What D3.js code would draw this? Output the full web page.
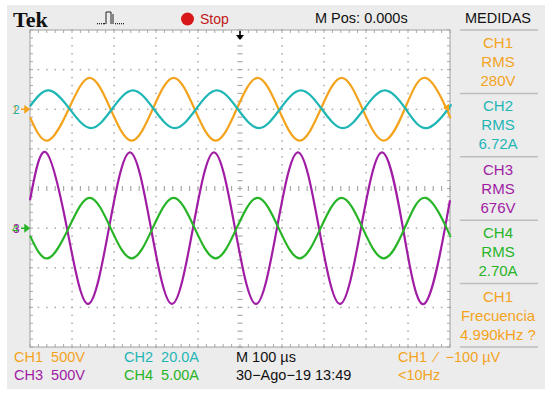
<!DOCTYPE html>
<html><head><meta charset="utf-8">
<script src="https://cdn.jsdelivr.net/npm/d3@7"></script>
<style>body{margin:0;background:#fff}svg{display:block}</style>
</head><body><svg id="c" width="550" height="398"></svg>
<script>
// ---- data (time in microseconds) ----
const timesA = [-500,-458,-408,-358,-308,-258,-208,-158,-108,-58,-8,42,92,142,192,242,292,342,392,442,492,500];
const ch1Volts = [-100,-396,0,396,0,-396,0,396,0,-396,0,396,0,-396,0,396,0,-396,0,396,0,-98];
const ch4Amps  = [-0.95,-3.82,0,3.82,0,-3.82,0,3.82,0,-3.82,0,3.82,0,-3.82,0,3.82,0,-3.82,0,3.82,0,-0.95];
const timesB = [-500,-455,-405,-355,-305,-255,-205,-155,-105,-55,-5,45,95,145,195,245,295,345,395,445,495,500];
const ch2Amps  = [1.5,9.5,0,-9.5,0,9.5,0,-9.5,0,9.5,0,-9.5,0,9.5,0,-9.5,0,9.5,0,-9.5,0,1.5];
const timesC = [-500,-462,-412,-362,-312,-262,-212,-162,-112,-62,-12,38,88,138,188,238,288,338,388,438,488,500];
const ch3Volts = [352,956,0,-956,0,956,0,-956,0,956,0,-956,0,956,0,-956,0,956,0,-956,0,352];

const channelNames = ["CH1","CH2","CH3","CH4"];
const scaleLabels  = ["500V","20.0A","500V","5.00A"];
const perDiv       = [500,20,500,5];
const offsetDiv    = [2,2,-1,-1];
const rmsLabels    = ["280V","6.72A","676V","2.70A"];
const colors       = ["#f4a31c","#1fb6b6","#a01ca4","#27b427"];
const timeTicksUs  = d3.range(-500,501,100);
const divTicks     = d3.range(-4,5,1);

const svg = d3.select("#c");
const FONT = "'Liberation Sans', Arial, sans-serif";

// screen background
svg.append("rect").attr("x",7).attr("y",5).attr("width",538).attr("height",384).attr("fill","#ececec");

const x = d3.scaleLinear().domain([-500,500]).range([30,450]);
const yDiv = d3.scaleLinear().domain([-4,4]).range([347,30]);

// plot area
svg.append("rect").attr("x",x(-500)).attr("y",yDiv(4)).attr("width",x(500)-x(-500)).attr("height",yDiv(-4)-yDiv(4)).attr("fill","#fff");

const g = svg.append("g");
const gridCol = "#a9a9a9";
// dotted div lines
timeTicksUs.slice(1,-1).forEach(t=>{
  if (t===0) return;
  d3.range(-4,4.001,0.2).forEach(v=>{
    g.append("rect").attr("x",x(t)-0.7).attr("y",yDiv(v)-0.7).attr("width",1.5).attr("height",1.5).attr("fill",gridCol);
  });
});
divTicks.slice(1,-1).forEach(v=>{
  if (v===0) return;
  d3.range(-500,500.001,20).forEach(t=>{
    g.append("rect").attr("x",x(t)-0.7).attr("y",yDiv(v)-0.7).attr("width",1.5).attr("height",1.5).attr("fill",gridCol);
  });
});
// center cross ticks
d3.range(-4,4.001,0.2).forEach(v=>{
  g.append("line").attr("x1",x(0)-2.5).attr("x2",x(0)+2.5).attr("y1",yDiv(v)).attr("y2",yDiv(v)).attr("stroke",gridCol).attr("stroke-width",1.2);
});
d3.range(-500,500.001,20).forEach(t=>{
  g.append("line").attr("x1",x(t)).attr("x2",x(t)).attr("y1",yDiv(0)-2.5).attr("y2",yDiv(0)+2.5).attr("stroke",gridCol).attr("stroke-width",1.2);
});
// edge ticks
d3.range(-500,500.001,20).forEach(t=>{
  g.append("line").attr("x1",x(t)).attr("x2",x(t)).attr("y1",yDiv(4)).attr("y2",yDiv(4)+3).attr("stroke",gridCol);
  g.append("line").attr("x1",x(t)).attr("x2",x(t)).attr("y1",yDiv(-4)).attr("y2",yDiv(-4)-3).attr("stroke",gridCol);
});
d3.range(-4,4.001,0.2).forEach(v=>{
  g.append("line").attr("x1",x(-500)).attr("x2",x(-500)+3).attr("y1",yDiv(v)).attr("y2",yDiv(v)).attr("stroke",gridCol);
  g.append("line").attr("x1",x(500)).attr("x2",x(500)-3).attr("y1",yDiv(v)).attr("y2",yDiv(v)).attr("stroke",gridCol);
});
g.append("rect").attr("x",x(-500)).attr("y",yDiv(4)).attr("width",x(500)-x(-500)).attr("height",yDiv(-4)-yDiv(4)).attr("fill","none").attr("stroke","#a0a0a0");

// traces
const series = [
  [timesA, ch1Volts],
  [timesB, ch2Amps],
  [timesC, ch3Volts],
  [timesA, ch4Amps]
];
series.forEach(([ts, vs], i)=>{
  const pts = ts.map((t,k)=>[t, vs[k]]);
  const line = d3.line().x(d=>x(d[0])).y(d=>yDiv(d[1]/perDiv[i]+offsetDiv[i])).curve(d3.curveNatural);
  svg.append("path").attr("d",line(pts)).attr("fill","none").attr("stroke",colors[i]).attr("stroke-width",2.2);
});

// left ground markers
function marker(yv, cText, cBack, labelFront, labelBack){
  const yy = yDiv(yv);
  svg.append("text").attr("x",12).attr("y",yy+4.5).attr("font-family",FONT).attr("font-size",12).attr("fill",cBack).text(labelBack);
  svg.append("text").attr("x",13).attr("y",yy+4.5).attr("font-family",FONT).attr("font-size",12).attr("fill",cText).text(labelFront);
  svg.append("path").attr("d",`M21,${yy}L27,${yy}M25,${yy-3}L29,${yy}L25,${yy+3}Z`).attr("stroke",cBack).attr("fill",cBack).attr("stroke-width",1.5);
}
marker(offsetDiv[0], colors[1], colors[0], "2", "1");
marker(offsetDiv[2], colors[2], colors[3], "3", "4");
// trigger level marker (right)
{
  const yy = yDiv(offsetDiv[0]) - 1.5;
  svg.append("path").attr("d",`M443,${yy}L449,${yy-4}L449,${yy+4}Z`).attr("fill",colors[0]);
}
// trigger position marker (top)
svg.append("path").attr("d",`M${x(0)},${yDiv(4)+1}L${x(0)},${yDiv(4)+9}`).attr("stroke","#000").attr("stroke-width",1.6);
svg.append("path").attr("d",`M${x(0)-4},${yDiv(4)+5}L${x(0)+4},${yDiv(4)+5}L${x(0)},${yDiv(4)+10}Z`).attr("fill","#000");

// header
svg.append("text").attr("x",13).attr("y",27).attr("font-family","'Liberation Serif', 'Times New Roman', serif").attr("font-weight","bold").attr("font-size",22).attr("fill","#111").text("Tek");
svg.append("path").attr("d","M106,24L106,12L111,12L111,24M113,14L113,24").attr("fill","none").attr("stroke","#222").attr("stroke-width",1);
[97,99,101,103,104,115,117,119,121,123].forEach(px=>svg.append("rect").attr("x",px).attr("y",23).attr("width",1).attr("height",1.3).attr("fill","#222"));
svg.append("circle").attr("cx",187.5).attr("cy",19).attr("r",6.5).attr("fill","#d81818");
svg.append("text").attr("x",200).attr("y",24).attr("font-family",FONT).attr("font-size",14).attr("fill","#c01818").text("Stop");
svg.append("text").attr("x",315).attr("y",23).attr("font-family",FONT).attr("font-size",14.5).attr("fill","#111").text("M Pos: 0.000s");
svg.append("text").attr("x",498).attr("y",23).attr("text-anchor","middle").attr("font-family",FONT).attr("font-size",14.5).attr("fill","#111").text("MEDIDAS");

// measurement panel
const boxTop = d3.range(6).map(k=>30+63.4*k);
boxTop.forEach(s=>svg.append("line").attr("x1",460).attr("x2",538).attr("y1",s).attr("y2",s).attr("stroke","#bdbdbd").attr("stroke-width",1.5));
const panelRows = [
  [channelNames[0],"RMS",rmsLabels[0],colors[0]],
  [channelNames[1],"RMS",rmsLabels[1],colors[1]],
  [channelNames[2],"RMS",rmsLabels[2],colors[2]],
  [channelNames[3],"RMS",rmsLabels[3],colors[3]],
  [channelNames[0],"Frecuencia","4.990kHz ?",colors[0]]
];
panelRows.forEach((r,k)=>{
  [0,1,2].forEach(j=>{
    svg.append("text").attr("x",498).attr("y",boxTop[k]+18+j*19).attr("text-anchor","middle")
      .attr("font-family",FONT).attr("font-size",15).attr("fill",r[3]).text(r[j]);
  });
});

// bottom status lines
const bot = [
  [14,362,`${channelNames[0]}  ${scaleLabels[0]}`,colors[0]],
  [124,362,`${channelNames[1]}  ${scaleLabels[1]}`,colors[1]],
  [14,380,`${channelNames[2]}  ${scaleLabels[2]}`,colors[2]],
  [124,380,`${channelNames[3]}  ${scaleLabels[3]}`,colors[3]],
  [236,362,"M 100 µs","#111"],
  [236,380,"30−Ago−19 13:49","#111"],
  [398,362,"CH1  \u2215  −100 µV",colors[0]],
  [398,380,"<10Hz",colors[0]]
];
bot.forEach(b=>svg.append("text").attr("x",b[0]).attr("y",b[1]).attr("font-family",FONT).attr("font-size",14.5).attr("fill",b[3]).attr("xml:space","preserve").style("white-space","pre").text(b[2]));
</script></body></html>
